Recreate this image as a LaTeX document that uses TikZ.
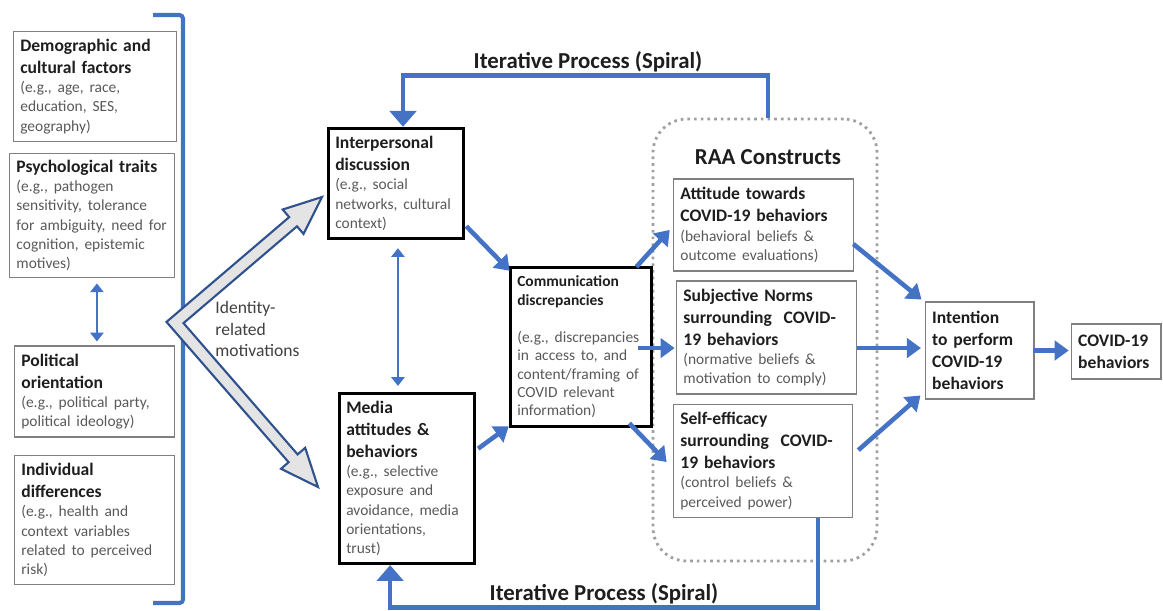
\documentclass[tikz,border=0pt]{standalone}
\usepackage{fontspec}
\setmainfont{Carlito}
\usetikzlibrary{arrows.meta}
\definecolor{flowblue}{HTML}{4472C4}
\definecolor{chevblue}{HTML}{2F528F}
\definecolor{chevfill}{HTML}{E4E4E4}
\definecolor{boxline}{HTML}{808080}
\definecolor{raagray}{HTML}{A0A0A0}
\definecolor{titletext}{HTML}{1E1E1E}
\definecolor{notetext}{HTML}{595959}
\newcommand{\boxtitle}[1]{{\fontsize{10}{12.5}\selectfont\bfseries\color{titletext}#1\par}}
\newcommand{\boxnote}[1]{{\fontsize{8.8}{11}\selectfont\color{notetext}#1\par}}
\frenchspacing

\begin{document}
\begin{tikzpicture}[x=0.02cm, y=-0.02cm, line join=miter,
	factor/.style 2 args={draw=boxline, line width=0.8pt, inner xsep=4pt, inner ysep=2pt, text width=#1, minimum height=#2, align=left},
	stage/.style 2 args={draw=black, line width=1.7pt, inner xsep=4pt, inner ysep=2pt, text width=#1, minimum height=#2, align=left},
	flow/.style={draw=flowblue, line width=2.6pt, -{Triangle[length=8pt,width=11pt]}},
	link/.style={draw=flowblue, line width=1.3pt, {Triangle[length=5pt,width=7.5pt]}-{Triangle[length=5pt,width=7.5pt]}},
	spiral/.style={draw=flowblue, line width=2.5pt, -{Triangle[length=9pt,width=15pt]}},
	bigtext/.style={font=\fontsize{13}{15}\selectfont\bfseries, text=titletext}]
	\useasboundingbox (0,0) rectangle (1163,610);

	% left column and its bracket
	\draw[flowblue, line width=2.3pt, rounded corners=2pt] (153,15) -- (183,15) -- (183,603) -- (153,603);
	\node[factor={85pt}{62.9pt}] (demo) at (95,86.5) {\boxtitle{Demographic and\\cultural factors}\boxnote{(e.g., age, race,\\education, SES,\\geography)}};
	\node[factor={86pt}{70.9pt}] (psych) at (92,215.5) {\boxtitle{Psychological traits}\boxnote{(e.g., pathogen\\sensitivity, tolerance\\\mbox{for ambiguity, need for}\\cognition, epistemic\\motives)}};
	\node[factor={83.3pt}{51.6pt}] (polit) at (94.5,391.5) {\boxtitle{Political\\orientation}\boxnote{(e.g., political party,\\political ideology)}};
	\node[factor={83.3pt}{73.7pt}] (indiv) at (94.5,520) {\boxtitle{Individual\\differences}\boxnote{(e.g., health and\\context variables\\related to perceived\\risk)}};
	\draw[link] ([xshift=2.8pt,yshift=-2.8pt]psych.south) -- ([xshift=2.8pt,yshift=2.3pt]psych.south |- polit.north);

	% identity-related motivations
	\draw[draw=chevblue, fill=chevfill, line width=1.2pt] (166.5,321.9) -- (289.2,217.1) -- (282.7,209.5) -- (322,197) -- (303.5,233.9) -- (297.0,226.3) -- (183.5,323.1) -- (297.6,454.4) -- (305.2,447.8) -- (318,487) -- (281.0,468.8) -- (288.6,462.2) -- cycle;
	\node[font=\fontsize{10}{12.2}\selectfont, text=titletext!85, align=left, anchor=west, inner sep=0pt] (motive) at (215,329) {Identity-\\related\\motivations};

	% communication
	\node[stage={69.1pt}{62.9pt}] (inter) at (396,183.5) {\boxtitle{Interpersonal\\discussion}\boxnote{(e.g., social\\networks, cultural\\context)}};
	\node[stage={69.1pt}{96.9pt}] (media) at (407,478.5) {\boxtitle{Media\\attitudes \&\\behaviors}\boxnote{(e.g., selective\\exposure and\\avoidance, media\\orientations,\\trust)}};
	\draw[link] ([xshift=1.1pt,yshift=-4.5pt]inter.south) -- ([xshift=1.1pt,yshift=3.4pt]inter.south |- media.north);

	\node[draw=raagray, line width=1.6pt, dash pattern=on 1.5pt off 2.3pt, rounded corners=19pt, minimum width=4.48cm, minimum height=8.84cm] (raa) at (765,340) {};
	\node[bigtext] (raatitle) at (768,157) {RAA Constructs};

	\node[stage={72.5pt}{90.7pt}] (comm) at (581,347) {{\fontsize{8.8}{10.5}\selectfont\bfseries\color{titletext}Communication\\discrepancies\par}\vspace{10.5pt}{\fontsize{8.8}{10.5}\selectfont\color{notetext}(e.g., discrepancies\\in access to, and\\content/framing of\\COVID relevant\\information)\par}};

	% RAA constructs
	\node[factor={94.6pt}{52.2pt}] (att) at (763.5,225) {\boxtitle{Attitude towards\\COVID-19 behaviors}\boxnote{(behavioral beliefs \&\\outcome evaluations)}};
	\node[factor={94.6pt}{64.1pt}] (subj) at (766.5,337.5) {\boxtitle{Subjective Norms\\surrounding~~COVID-\\19 behaviors}\boxnote{(normative beliefs \&\\motivation to comply)}};
	\node[factor={94.1pt}{64.6pt}] (self) at (763,461) {\boxtitle{Self-efficacy\\surrounding~~COVID-\\19 behaviors}\boxnote{(control beliefs \&\\perceived power)}};
	\node[factor={53.8pt}{55pt}] (intent) at (979.5,350.5) {\boxtitle{Intention\\to perform\\COVID-19\\behaviors}};
	\node[factor={43pt}{31.2pt}] (covid) at (1116,351.5) {\boxtitle{COVID-19\\behaviors}};

	\draw[flow] ([xshift=0.6pt,yshift=8pt]inter.south east) -- ([xshift=0.5pt,yshift=-2.8pt]comm.north west);
	\draw[flow] ([xshift=1.1pt,yshift=-32.3pt]media.north east) -- ([yshift=1.1pt]comm.south west);
	\draw[flow] ([xshift=-9.6pt,yshift=-0.6pt]comm.north east) -- ([xshift=-1.7pt,yshift=-2.8pt]att.west);
	\draw[flow] ([xshift=-8.5pt,yshift=-0.6pt]comm.east) -- ([xshift=-0.6pt,yshift=-0.6pt]comm.east -| subj.west);
	\draw[flow] ([xshift=-13.6pt,yshift=2.8pt]comm.south east) -- ([xshift=-3.4pt,yshift=-0.6pt]self.west);
	\draw[flow] ([xshift=-0.6pt,yshift=-10.8pt]att.east) -- ([xshift=-1.7pt,yshift=1.1pt]intent.north west);
	\draw[flow] ([yshift=-6pt]subj.east) -- ([xshift=-2pt,yshift=-6pt]subj.east -| intent.west);
	\draw[flow] ([xshift=2.8pt,yshift=6.2pt]self.east) -- ([xshift=-2.3pt,yshift=2.3pt]intent.south west);
	\draw[flow] ([xshift=-1pt]intent.east) -- ([xshift=-1pt]intent.east -| covid.west);

	% the spiral back to the start
	\draw[spiral] ([xshift=1.7pt]raa.north) -- ++(0,-42) -| ([xshift=4pt]inter.north);
	\node[bigtext] (itertop) at (588,62) {Iterative Process (Spiral)};
	\draw[spiral] ([xshift=31.2pt]self.south) -- ++(0,89) -| ([xshift=-9.6pt]media.south);
	\node[bigtext] (iterbot) at (604,594) {Iterative Process (Spiral)};
\end{tikzpicture}
\end{document}
